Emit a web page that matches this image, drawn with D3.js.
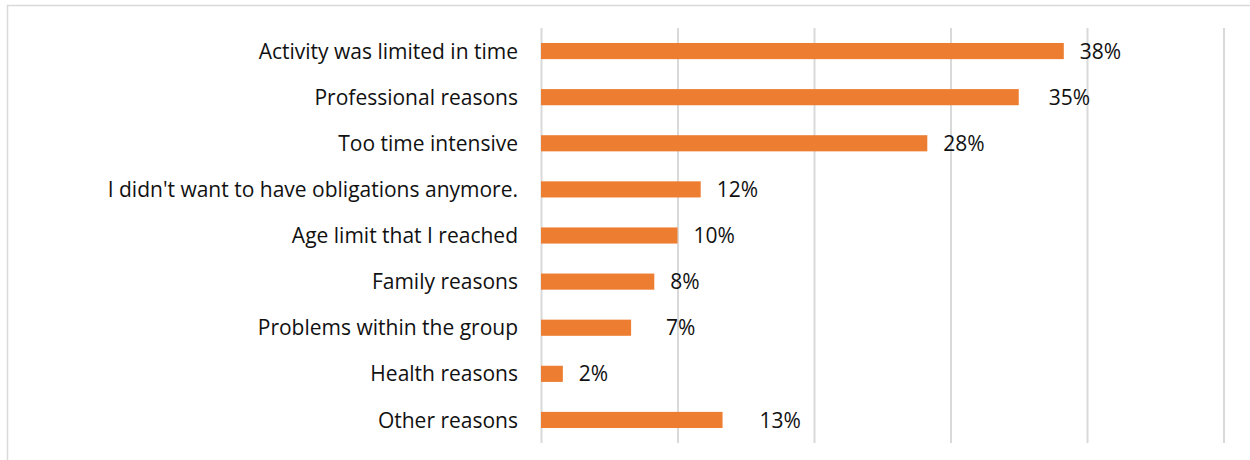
<!DOCTYPE html>
<html>
<head>
<meta charset="utf-8">
<script src="https://cdn.jsdelivr.net/npm/d3@7"></script>
<style>
  body { margin: 0; background: #fff; }
  svg { display: block; font-family: "Open Sans", Lato, sans-serif; }
</style>
</head>
<body>
<div id="wrapper"></div>
<script>
// data
const reasons = [
  "Activity was limited in time",
  "Professional reasons",
  "Too time intensive",
  "I didn't want to have obligations anymore.",
  "Age limit that I reached",
  "Family reasons",
  "Problems within the group",
  "Health reasons",
  "Other reasons"
];
const shares = [38.3, 35.0, 28.3, 11.7, 10.0, 8.3, 6.6, 1.6, 13.3];
const shareLabels = ["38%", "35%", "28%", "12%", "10%", "8%", "7%", "2%", "13%"];
const xTicks = [0, 10, 20, 30, 40, 50];

// some labels were dragged by hand in the original
const labelNudge = [0, 14, 0, 0, 0, 0, 19, 0, 21];

function drawBarChart() {
  //1. dimensions
  let dimensions = {
    width: 1250,
    height: 460,
    margin: { top: 28, right: 26.5, bottom: 17, left: 541 },
  };
  dimensions.boundedWidth = dimensions.width - dimensions.margin.left - dimensions.margin.right;
  dimensions.boundedHeight = dimensions.height - dimensions.margin.top - dimensions.margin.bottom;

  //2. canvas
  const wrapper = d3.select("#wrapper")
    .append("svg")
    .attr("width", dimensions.width)
    .attr("height", dimensions.height);

  // chart frame (cut off on the right and bottom)
  wrapper.append("rect")
    .attr("x", 7.5)
    .attr("y", 5.5)
    .attr("width", 1260)
    .attr("height", 470)
    .attr("fill", "none")
    .attr("stroke", "#d9d9d9")
    .attr("stroke-width", 1.5);

  const bounds = wrapper.append("g")
    .attr("transform", `translate(${dimensions.margin.left},${dimensions.margin.top})`);

  //3. scales
  const xScale = d3.scaleLinear()
    .domain([0, 50])
    .range([0, dimensions.boundedWidth]);

  const yScale = d3.scaleBand()
    .domain(reasons)
    .range([0, dimensions.boundedHeight])
    .paddingInner(0.65)
    .paddingOuter(0.325);

  //4. gridlines
  const xAxisGenerator = d3.axisBottom(xScale)
    .tickValues(xTicks)
    .tickSize(-dimensions.boundedHeight)
    .tickFormat("");
  const xAxis = bounds.append("g")
    .attr("transform", `translate(0,${dimensions.boundedHeight})`)
    .call(xAxisGenerator);
  xAxis.select(".domain").remove();
  xAxis.selectAll(".tick line")
    .attr("stroke", "#d9d9d9")
    .attr("stroke-width", 2);

  //5. category axis
  const yAxisGenerator = d3.axisLeft(yScale).tickSize(0).tickPadding(23);
  const yAxis = bounds.append("g").call(yAxisGenerator);
  yAxis.select(".domain").remove();
  yAxis.selectAll("text")
    .attr("fill", "#111")
    .attr("dy", "0.36em")
    .style("font-size", "21px")
    .style("font-family", "'Open Sans', Lato, sans-serif");

  //6. bars
  bounds.selectAll("rect.bar")
    .data(reasons)
    .enter()
    .append("rect")
    .attr("class", "bar")
    .attr("x", xScale(0))
    .attr("y", (d) => yScale(d))
    .attr("width", (d, i) => xScale(shares[i]) - xScale(0))
    .attr("height", yScale.bandwidth())
    .attr("fill", "#ed7d31");

  //7. value labels
  bounds.selectAll("text.value")
    .data(reasons)
    .enter()
    .append("text")
    .attr("class", "value")
    .attr("x", (d, i) => xScale(shares[i]) + 16 + labelNudge[i])
    .attr("y", (d) => yScale(d) + yScale.bandwidth() / 2)
    .attr("dy", "0.36em")
    .attr("fill", "#111")
    .style("font-size", "21px")
    .text((d, i) => shareLabels[i]);
}

drawBarChart();
</script>
</body>
</html>
